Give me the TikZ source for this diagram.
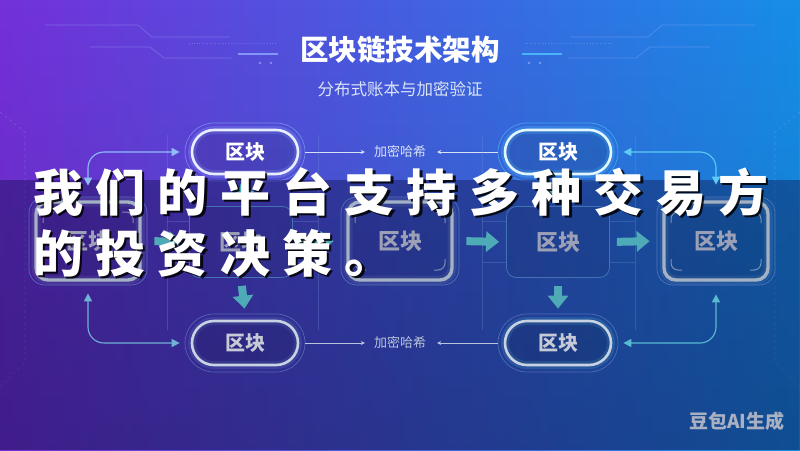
\documentclass[tikz,border=0pt]{standalone}
\usepackage{fontspec}
\newfontfamily\cjk{Noto Sans CJK SC}
\newfontfamily\cjkcap[LetterSpace=24.6]{Noto Sans CJK SC}
\usetikzlibrary{arrows.meta,shapes.misc,fadings}
\definecolor{bgL}{HTML}{7430DA}
\definecolor{bgR}{HTML}{168EE8}
\definecolor{bandcol}{HTML}{0A0A40}
\definecolor{topA}{HTML}{E8EEFF}
\definecolor{glowA}{HTML}{8FA8FF}
\definecolor{topB}{HTML}{E2F6FF}
\definecolor{glowB}{HTML}{4FC8FF}
\definecolor{ringcol}{HTML}{8AB0F8}
\definecolor{midthick}{HTML}{A4B2C6}
\definecolor{midring}{HTML}{5C80C0}
\definecolor{midtext}{HTML}{9CA0B6}
\definecolor{thinline}{HTML}{4272B4}
\definecolor{blockcol}{HTML}{4EAAB6}
\definecolor{botline}{HTML}{C8D2E2}
\definecolor{bottext}{HTML}{C6CAD6}
\definecolor{botring}{HTML}{6A8ACC}
\definecolor{curveTL}{HTML}{8EBEF5}
\definecolor{curveTR}{HTML}{5CCBF5}
\definecolor{curveBL}{HTML}{6FB2D6}
\definecolor{curveBR}{HTML}{58BAD2}
\definecolor{hashtop}{HTML}{D8E2F6}
\definecolor{hashbot}{HTML}{B8C4DC}
\definecolor{decor}{HTML}{A8BCFF}
\definecolor{subcol}{HTML}{DCE4F6}
\definecolor{wmcol}{HTML}{A8B0C2}
\definecolor{framecol}{HTML}{7090D0}
\tikzfading[name=darkdown, top color=transparent!100, bottom color=transparent!0]
\newcommand\cornermarks[2]{%
  \draw[midthick, line width=1pt, rounded corners=7pt, draw opacity=0.7]
    ({#1-45},{#2-18}) -- ({#1-45},{#2-29}) -- ({#1-34},{#2-29});
  \draw[midthick, line width=1pt, rounded corners=7pt, draw opacity=0.7]
    ({#1+45},{#2-18}) -- ({#1+45},{#2-29}) -- ({#1+34},{#2-29});
  \draw[midthick, line width=1pt, rounded corners=7pt, draw opacity=0.7]
    ({#1-45},{#2+18}) -- ({#1-45},{#2+29}) -- ({#1-34},{#2+29});
  \draw[midthick, line width=1pt, rounded corners=7pt, draw opacity=0.7]
    ({#1+45},{#2+18}) -- ({#1+45},{#2+29}) -- ({#1+34},{#2+29});
}
\begin{document}
\begin{tikzpicture}[x=1pt,y=-1pt,
  pill/.style={rounded rectangle, minimum width=106pt, minimum height=44pt, inner sep=0pt,
    line width=2.6pt, fill=black, fill opacity=0.1, text opacity=1,
    font=\cjk\bfseries\fontsize{20}{20}\selectfont},
  ring/.style={rounded rectangle, minimum width=120pt, minimum height=58pt, inner sep=0pt,
    draw=#1, line width=0.7pt, draw opacity=0.6},
  gbox/.style={rectangle, rounded corners=12pt, minimum width=104pt, minimum height=78pt,
    inner sep=0pt, draw=midthick, line width=3.4pt, fill=black, fill opacity=0.08,
    text opacity=1, text=midtext, font=\cjk\bfseries\fontsize{22}{22}\selectfont,
    preaction={draw=midthick, line width=9pt, draw opacity=0.12}},
  gring/.style={rectangle, rounded corners=16pt, minimum width=118pt, minimum height=88pt,
    inner sep=0pt, draw=midring, line width=0.7pt, draw opacity=0.8},
  tbox/.style={rectangle, rounded corners=10pt, minimum width=103pt, minimum height=71pt,
    inner sep=0pt, draw=thinline, line width=0.8pt, fill=black, fill opacity=0.06,
    text opacity=1, text=midtext, font=\cjk\bfseries\fontsize{22}{22}\selectfont},
  blockarrow/.style={draw=blockcol, line width=8pt, -{Triangle[length=13pt,width=20pt]}},
  thinarrow/.style={line width=1.1pt,
    {Triangle[length=8pt,width=8pt]}-{Triangle[length=8pt,width=8pt]}, rounded corners=16pt},
  hashline/.style={line width=0.8pt, -{Stealth[length=4pt,width=4pt]}},
  hashlabel/.style={inner sep=2pt, font=\cjk\fontsize{13}{13}\selectfont},
  decoline/.style={draw=decor, line width=0.6pt, draw opacity=0.35},
  framel/.style={draw=framecol, line width=0.5pt, draw opacity=0.3},
  capt/.style={anchor=base west, inner sep=0pt, font=\cjkcap\bfseries\fontsize{50}{50}\selectfont}
]
\useasboundingbox (0,0) rectangle (800,450);
% background
\fill[left color=bgL, right color=bgR] (0,0) rectangle (800,450);
\fill[black, path fading=darkdown, fill opacity=0.15] (0,0) rectangle (800,450);

% decorative circuit lines (top)
\draw[decoline] (45,25) -- (138,25) -- (152,37) -- (230,37);
\draw[decoline] (90,47) -- (150,47) -- (164,58) -- (232,58);
\draw[decoline, dotted, line width=1pt] (189,43) -- (276,43);
\draw[draw=glowA, line width=2.2pt, draw opacity=0.8] (238,54) -- (278,54);
\fill[decor, opacity=0.6] (260,63) circle (1.3) (271,63) circle (1.3);
\draw[decoline] (755,25) -- (662,25) -- (648,37) -- (570,37);
\draw[decoline] (710,47) -- (650,47) -- (636,58) -- (568,58);
\draw[decoline, dotted, line width=1pt] (611,43) -- (524,43);
\draw[draw=glowB, line width=2.2pt, draw opacity=0.8] (522,54) -- (562,54);
\fill[decor, opacity=0.6] (529,63) circle (1.3) (540,63) circle (1.3);
% side dashed lines
\draw[decoline, dashed, draw opacity=0.25] (0,112) -- (25,132) -- (25,362) -- (0,387);
\draw[decoline, dashed, draw opacity=0.25] (800,112) -- (775,132) -- (775,362) -- (800,387);

% title
\node[font=\cjk\bfseries\fontsize{28.5}{28.5}\selectfont, text=white] (title) at (400,50) {区块链技术架构};
\node[font=\cjk\fontsize{16.5}{16.5}\selectfont, text=subcol] (subtitle) at (400,89) {分布式账本与加密验证};

% top pills
\node[ring=ringcol] (Ar) at (245,152) {};
\node[pill, draw=topA, text=white, preaction={draw=glowA, line width=8pt, draw opacity=0.25}] (A) at (245,152) {区块};
\node[ring=glowB] (Br) at (558,152) {};
\node[pill, draw=topB, text=white, preaction={draw=glowB, line width=8pt, draw opacity=0.25}] (B) at (558,152) {区块};
\node[hashlabel, text=hashtop] (h1) at (400,152) {加密哈希};
\draw[hashline, draw=hashtop, shorten >=7pt] (Ar.east) -- (h1.west);
\draw[hashline, draw=hashtop, shorten >=9pt] (Br.west) -- (h1.east);

% dark band
\fill[bandcol, fill opacity=0.38] (0,180) rectangle (800,450);

% faint frames around thin boxes
\draw[framel] (167,135) -- (167,330);
\draw[framel] (318,135) -- (318,330);
\draw[framel] (482,135) -- (482,330);
\draw[framel] (635,135) -- (635,330);
\draw[framel] (167,221) -- (189,221) (167,262) -- (189,262);
\draw[framel] (293,221) -- (318,221) (293,262) -- (318,262);
\draw[framel] (482,221) -- (506,221) (482,262) -- (506,262);
\draw[framel] (610,221) -- (635,221) (610,262) -- (635,262);

% middle row
\node[gring] (B1r) at (88,241) {};
\node[gbox] (B1) at (88,241) {区块};
\node[tbox] (B2) at (241,242) {区块};
\node[gring] (B3r) at (400,241) {};
\node[gbox] (B3) at (400,241) {区块};
\node[tbox] (B4) at (558,242) {区块};
\node[gring] (B5r) at (716,241) {};
\node[gbox] (B5) at (716,241) {区块};
\cornermarks{88}{241}
\cornermarks{400}{241}
\cornermarks{716}{241}

% bottom pills
\node[ring=botring] (Cr) at (245,343) {};
\node[pill, draw=botline, text=bottext, preaction={draw=botring, line width=8pt, draw opacity=0.2}] (C) at (245,343) {区块};
\node[ring=botring] (Dr) at (558,343) {};
\node[pill, draw=botline, text=bottext, preaction={draw=curveBR, line width=8pt, draw opacity=0.2}] (D) at (558,343) {区块};
\node[hashlabel, text=hashbot] (h2) at (400,343) {加密哈希};
\draw[hashline, draw=hashbot, shorten >=7pt] (Cr.east) -- (h2.west);
\draw[hashline, draw=hashbot, shorten >=9pt] (Dr.west) -- (h2.east);

% block arrows
\draw[blockarrow, shorten <=7pt, shorten >=7pt] (B1r.east) -- (B2.west);
\draw[blockarrow, shorten <=7pt, shorten >=7pt] (B2.east) -- (B3r.west);
\draw[blockarrow, shorten <=7pt, shorten >=7pt] (B3r.east) -- (B4.west);
\draw[blockarrow, shorten <=7pt, shorten >=7pt] (B4.east) -- (B5r.west);
\draw[blockarrow, shorten <=3pt, shorten >=4pt] (Ar.south) -- (B2.north);
\draw[blockarrow, shorten <=3pt, shorten >=4pt] (Br.south) -- (B4.north);
\draw[blockarrow, shorten <=8pt, shorten >=5pt] (B2.south) -- (Cr.north);
\draw[blockarrow, shorten <=8pt, shorten >=5pt] (B4.south) -- (Dr.north);

% curved connectors
\draw[thinarrow, draw=curveTL, shorten <=11pt, shorten >=5pt] (B1r.north) |- (Ar.west);
\draw[thinarrow, draw=curveBL, shorten <=8pt, shorten >=5pt] (B1r.south) |- (Cr.west);
\draw[thinarrow, draw=curveTR, shorten <=5pt, shorten >=12pt] (Br.east) -| (B5r.north);
\draw[thinarrow, draw=curveBR, shorten <=5pt, shorten >=9pt] (Dr.east) -| (B5r.south);

% watermark
\node[font=\cjk\bfseries\fontsize{19}{19}\selectfont, text=wmcol] (wm) at (737,421) {豆包AI生成};

% caption overlay
\node[capt, text=black, text opacity=0.85] (cap1s) at (35.5,213.5) {我们的平台支持多种交易方};
\node[capt, text=white] (cap1) at (33,211) {我们的平台支持多种交易方};
\node[capt, text=black, text opacity=0.85] (cap2s) at (35.5,274.5) {的投资决策。};
\node[capt, text=white] (cap2) at (33,272) {的投资决策。};
\end{tikzpicture}
\end{document}
